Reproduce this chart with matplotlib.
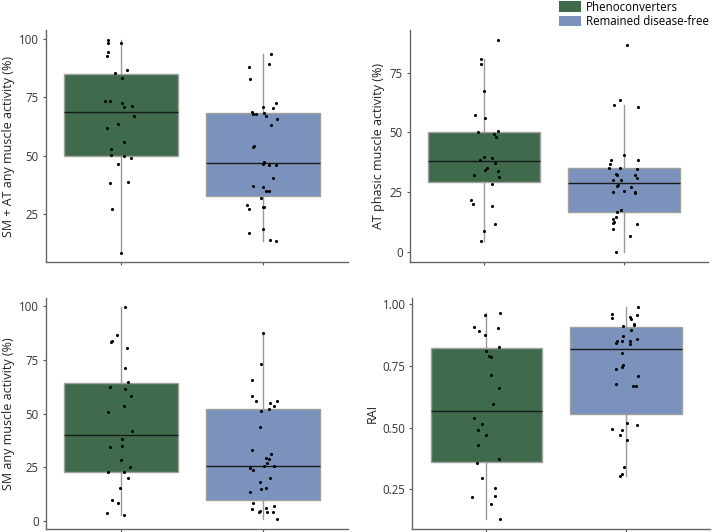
import numpy as np
import matplotlib
matplotlib.use('Agg')
import matplotlib.pyplot as plt
from matplotlib.patches import Patch

plt.rcParams['font.family'] = ['Open Sans', 'DejaVu Sans']

groups = ['Phenoconverters', 'Remained disease-free']
colors = ['#3f6b4c', '#7a92bc']

# SM + AT any muscle activity (%)
smat_pheno = [99.7, 98.4, 94.4, 93.0, 98.3, 85.5, 86.8, 83.5, 73.6, 73.6, 72.5, 70.9, 71.5,
              66.9, 62.0, 63.7, 55.8, 52.8, 50.1, 49.8, 49.1, 46.3, 38.2, 38.7, 26.8, 8.2]
smat_free = [93.8, 89.5, 87.9, 83.1, 72.6, 70.6, 70.9, 68.7, 68.0, 67.7, 68.3, 66.9, 65.6, 63.1,
             54.2, 53.7, 47.1, 46.2, 46.1, 46.1, 40.3, 37.0, 36.4, 34.7, 34.9, 31.9, 28.7, 27.0,
             28.0, 27.7, 16.8, 18.2, 13.6, 13.1]

# AT phasic muscle activity (%)
atph_pheno = [88.8, 80.6, 78.5, 67.5, 57.5, 56.0, 50.0, 50.4, 49.3, 48.0, 39.7, 39.4, 38.5,
              37.2, 34.9, 34.1, 33.9, 31.4, 32.0, 28.5, 21.5, 19.8, 19.1, 11.6, 8.7, 4.5]
atph_free = [86.7, 63.7, 61.7, 60.6, 40.5, 38.3, 38.3, 36.7, 35.2, 34.9, 34.8, 32.7, 32.1, 32.3,
             30.2, 29.9, 30.7, 27.5, 27.8, 27.0, 25.3, 25.0, 24.7, 25.1, 17.6, 16.6, 14.4, 13.7,
             12.3, 12.0, 9.5, 11.5, 6.4, 0.0]

# SM any muscle activity (%)
sm_pheno = [99.5, 86.5, 83.7, 83.1, 80.3, 71.2, 64.7, 62.2, 61.6, 58.3, 53.3, 50.7, 41.9,
            38.0, 34.6, 34.7, 28.5, 25.1, 22.6, 22.6, 19.8, 15.3, 9.9, 8.4, 3.9, 2.8]
sm_free = [87.3, 73.2, 65.6, 58.1, 56.0, 55.7, 54.7, 53.5, 52.2, 51.3, 43.6, 33.0, 31.0, 29.1,
           29.0, 27.0, 25.7, 25.6, 24.7, 23.7, 20.0, 18.1, 15.5, 14.7, 13.6, 8.4, 5.7, 6.2,
           6.8, 4.7, 4.0, 4.3, 4.2, 0.8]

# RAI
rai_pheno = [0.964, 0.955, 0.908, 0.903, 0.891, 0.876, 0.828, 0.812, 0.792, 0.788, 0.715, 0.659,
             0.596, 0.538, 0.514, 0.492, 0.470, 0.428, 0.374, 0.357, 0.297, 0.257, 0.220, 0.222,
             0.191, 0.128]
rai_free = [0.988, 0.961, 0.945, 0.957, 0.947, 0.942, 0.922, 0.914, 0.911, 0.897, 0.872, 0.858,
            0.850, 0.850, 0.842, 0.853, 0.838, 0.803, 0.753, 0.747, 0.736, 0.709, 0.677, 0.668,
            0.668, 0.520, 0.511, 0.495, 0.492, 0.472, 0.451, 0.339, 0.311, 0.304]

# horizontal jitter (same order as the values)
jit_smat = [[-0.09, -0.09, -0.09, -0.1, 0.0, -0.04, 0.04, 0.01, -0.11, -0.08, 0.01, 0.02, 0.08,
             0.09, -0.1, -0.02, 0.02, -0.07, -0.07, 0.02, 0.07, -0.02, -0.08, 0.05, -0.06, 0.0],
            [0.06, 0.04, -0.1, -0.09, 0.09, 0.07, 0.0, -0.08, -0.07, -0.05, 0.01, 0.02, 0.1, 0.06,
             -0.06, -0.07, 0.01, 0.0, 0.04, 0.09, 0.07, -0.07, 0.0, 0.02, 0.04, -0.01, -0.11, -0.1,
             0.0, 0.01, -0.1, 0.0, 0.05, 0.09]]
jit_atph = [[0.1, -0.02, -0.02, 0.0, -0.06, 0.01, -0.04, 0.1, 0.07, 0.09, 0.0, 0.06, -0.03, 0.08,
             0.02, 0.01, 0.1, 0.11, -0.07, 0.06, -0.09, -0.08, 0.06, 0.08, 0.0, -0.02],
            [0.02, -0.03, -0.07, 0.1, 0.0, -0.09, 0.1, -0.1, -0.03, -0.11, 0.09, -0.06, -0.05, 0.08,
             -0.02, -0.08, 0.09, -0.05, -0.04, 0.05, 0.0, -0.08, 0.08, 0.08, -0.02, -0.05, -0.06,
             -0.08, -0.07, -0.08, -0.08, 0.09, 0.04, -0.06]]
jit_sm = [[0.03, -0.03, -0.06, -0.07, 0.04, 0.03, 0.05, -0.08, 0.03, 0.07, 0.02, -0.09, 0.08, 0.01,
           -0.08, 0.01, 0.0, 0.06, -0.09, 0.02, 0.05, -0.01, -0.06, -0.02, -0.1, 0.02],
          [0.0, -0.01, -0.08, -0.08, -0.05, 0.1, 0.05, 0.08, 0.04, -0.01, -0.02, -0.08, 0.06, 0.02,
           0.04, 0.03, 0.01, 0.08, -0.09, -0.07, 0.05, -0.02, 0.02, -0.01, -0.09, -0.07, -0.08,
           0.02, 0.08, -0.02, -0.03, 0.03, 0.07, 0.1]]
jit_rai = [[0.1, -0.01, -0.09, 0.08, -0.05, -0.01, 0.09, 0.0, 0.02, 0.03, 0.03, 0.09, 0.05, -0.09,
            -0.03, -0.06, 0.0, -0.06, 0.09, -0.07, -0.03, 0.06, -0.1, 0.06, 0.03, 0.1],
           [0.09, -0.1, -0.1, 0.08, 0.03, 0.04, 0.06, 0.06, -0.02, 0.04, -0.02, 0.08, -0.06, -0.03,
            -0.07, 0.03, 0.03, -0.03, -0.02, -0.03, -0.07, 0.09, -0.07, 0.05, 0.07, 0.01, 0.08,
            -0.1, -0.03, -0.04, 0.01, -0.01, -0.03, -0.04]]

panels = [
    ('SM + AT any muscle activity (%)', smat_pheno, smat_free, jit_smat, [25, 50, 75, 100], (4.2, 104.0)),
    ('AT phasic muscle activity (%)', atph_pheno, atph_free, jit_atph, [0, 25, 50, 75], (-4.3, 92.9)),
    ('SM any muscle activity (%)', sm_pheno, sm_free, jit_sm, [0, 25, 50, 75, 100], (-3.7, 103.9)),
    ('RAI', rai_pheno, rai_free, jit_rai, [0.25, 0.5, 0.75, 1.0], (0.089, 1.027)),
]

rects = [
    [0.064, 0.5075, 0.422, 0.436],
    [0.572, 0.5075, 0.417, 0.436],
    [0.064, 0.0056, 0.422, 0.435],
    [0.576, 0.0056, 0.415, 0.435],
]

fig = plt.figure(figsize=(7.16, 5.32), dpi=100)

for (label, a, b, jit, ticks, ylim), rect in zip(panels, rects):
    ax = fig.add_axes(rect)
    bp = ax.boxplot([a, b], positions=[1, 2], widths=0.8, patch_artist=True,
                    showfliers=False, showcaps=False, whis=1.5,
                    medianprops=dict(color='#1a1a1a', linewidth=1.0),
                    whiskerprops=dict(color='#9a9a9a', linewidth=1.0),
                    boxprops=dict(edgecolor='#a0a0a0', linewidth=1.0))
    for patch, c in zip(bp['boxes'], colors):
        patch.set_facecolor(c)
    for i, vals in enumerate([a, b]):
        xs = np.array(jit[i]) + i + 1
        ax.scatter(xs, vals, s=5, color='black', zorder=3, linewidths=0)

    ax.set_xlim(0.47, 2.6)
    ax.set_ylim(*ylim)
    ax.set_yticks(ticks)
    if label == 'RAI':
        ax.set_yticklabels(['%.2f' % t for t in ticks])
    else:
        ax.set_yticklabels([str(t) for t in ticks])
    ax.set_xticks([1, 2])
    ax.set_xticklabels([])
    ax.set_ylabel(label, fontsize=9, color='#222222', labelpad=3)
    ax.tick_params(axis='both', length=2.5, width=0.8, colors='#555555',
                   labelsize=8.3, labelcolor='#333333', pad=2.5)
    for side in ['top', 'right']:
        ax.spines[side].set_visible(False)
    for side in ['left', 'bottom']:
        ax.spines[side].set_color('#666666')
        ax.spines[side].set_linewidth(1.0)

handles = [Patch(facecolor=c, edgecolor='none', label=g) for g, c in zip(groups, colors)]
fig.legend(handles=handles, loc='upper left', bbox_to_anchor=(0.781, 0.999), frameon=False,
           fontsize=8.3, handlelength=1.9, handleheight=1.05, handletextpad=0.45,
           labelspacing=0.12, borderaxespad=0.0, borderpad=0.0)

fig.savefig('out.png', dpi=100)
